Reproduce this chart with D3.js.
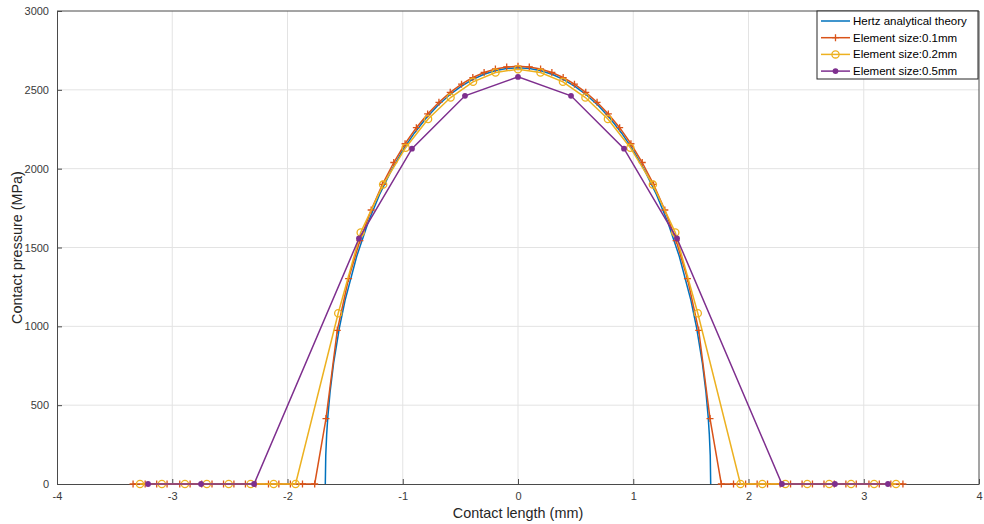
<!DOCTYPE html>
<html>
<head>
<meta charset="utf-8">
<script src="https://cdn.jsdelivr.net/npm/d3@7"></script>
<style>
  body { margin: 0; background: #fff; }
  svg { display: block; font-family: "Liberation Sans", Arial, sans-serif; }
  .tick text { fill: #3a3a3a; font-size: 11px; }
  .axisLabel { fill: #262626; font-size: 14.4px; }
  .legend text { fill: #000; font-size: 11.5px; }
</style>
</head>
<body>
<svg id="chart" width="984" height="524"></svg>
<script>
// data
var xTicks = [-4, -3, -2, -1, 0, 1, 2, 3, 4];
var yTicks = [0, 500, 1000, 1500, 2000, 2500, 3000];
var seriesNames = ['Hertz analytical theory', 'Element size:0.1mm', 'Element size:0.2mm', 'Element size:0.5mm'];

// Hertz analytical theory (right half, mirrored below)
var hertzX = [0, 0.1, 0.2, 0.3, 0.4, 0.5, 0.6, 0.7, 0.8, 0.9, 1.0, 1.1, 1.2, 1.3, 1.4, 1.5, 1.55, 1.6, 1.63, 1.65, 1.66, 1.668, 1.672];
var hertzP = [2640, 2635, 2621, 2597, 2563, 2519, 2464, 2398, 2318, 2225, 2116, 1988, 1838, 1660, 1443, 1166, 990, 766, 588, 427, 316, 183, 0];

// element size 0.1mm (right half)
var e01X = [0, 0.098, 0.196, 0.294, 0.392, 0.49, 0.588, 0.686, 0.784, 0.882, 0.98, 1.078, 1.176, 1.274, 1.372, 1.47, 1.568, 1.666,
  1.764, 1.87, 1.975, 2.075, 2.165, 2.275, 2.365, 2.465, 2.555, 2.655, 2.745, 2.845, 2.935, 3.045, 3.135, 3.235, 3.34];
var e01P = [2650, 2645, 2632, 2610, 2578, 2536, 2484, 2421, 2347, 2260, 2158, 2039, 1901, 1738, 1544, 1303, 975, 415,
  0, 0, 0, 0, 0, 0, 0, 0, 0, 0, 0, 0, 0, 0, 0, 0, 0];

// element size 0.2mm (right half)
var e02X = [0, 0.195, 0.39, 0.585, 0.78, 0.975, 1.17, 1.365, 1.56, 1.93, 2.12, 2.32, 2.51, 2.70, 2.89, 3.09, 3.28];
var e02P = [2631, 2610, 2551, 2451, 2315, 2133, 1899, 1595, 1083, 0, 0, 0, 0, 0, 0, 0, 0];

// element size 0.5mm (right half)
var e05X = [0, 0.46, 0.92, 1.38, 2.29, 2.75, 3.21];
var e05P = [2582, 2462, 2127, 1557, 0, 0, 0];

function mirror(xs, ps) {
  var pts = [];
  for (var i = xs.length - 1; i > 0; i--) pts.push({x: -xs[i], y: ps[i]});
  for (var j = 0; j < xs.length; j++) pts.push({x: xs[j], y: ps[j]});
  return pts;
}

var series = [
  {name: seriesNames[0], color: '#0072BD', marker: 'none', pts: mirror(hertzX, hertzP)},
  {name: seriesNames[1], color: '#D95319', marker: 'plus', pts: mirror(e01X, e01P)},
  {name: seriesNames[2], color: '#EDB120', marker: 'circle', pts: mirror(e02X, e02P)},
  {name: seriesNames[3], color: '#7E2F8E', marker: 'dot', pts: mirror(e05X, e05P)}
];

var MARGINS = {left: 57, right: 5, top: 11, bottom: 40},
    WIDTH = 984, HEIGHT = 524;

var svg = d3.select('#chart');
var x = d3.scaleLinear().domain([-4, 4]).range([MARGINS.left, WIDTH - MARGINS.right]);
var y = d3.scaleLinear().domain([0, 3000]).range([HEIGHT - MARGINS.bottom, MARGINS.top]);

// grid
svg.append('g').selectAll('line').data(xTicks.slice(1, -1)).enter().append('line')
  .attr('x1', function (d) { return x(d); }).attr('x2', function (d) { return x(d); })
  .attr('y1', y(0)).attr('y2', y(3000))
  .attr('stroke', '#e3e3e3').attr('stroke-width', 1);
svg.append('g').selectAll('line').data(yTicks.slice(1, -1)).enter().append('line')
  .attr('x1', x(-4)).attr('x2', x(4))
  .attr('y1', function (d) { return y(d); }).attr('y2', function (d) { return y(d); })
  .attr('stroke', '#e3e3e3').attr('stroke-width', 1);

// axes (plain hyphen minus, no thousands separator)
var plain = function (d) { return String(d); };
var xAxis = d3.axisBottom(x).tickValues(xTicks).tickFormat(plain).tickSizeInner(-5).tickSizeOuter(0).tickPadding(8);
var yAxis = d3.axisLeft(y).tickValues(yTicks).tickFormat(plain).tickSizeInner(-5).tickSizeOuter(0).tickPadding(8);

svg.append('g').attr('class', 'x axis')
  .attr('transform', 'translate(0,' + y(0) + ')')
  .call(xAxis);
svg.append('g').attr('class', 'y axis')
  .attr('transform', 'translate(' + x(-4) + ',0)')
  .call(yAxis);
svg.selectAll('.axis path, .axis line').attr('stroke', '#4a4a4a');

// box top / right
svg.append('line').attr('x1', x(-4)).attr('x2', x(4)).attr('y1', y(3000)).attr('y2', y(3000)).attr('stroke', '#4a4a4a');
svg.append('line').attr('x1', x(4)).attr('x2', x(4)).attr('y1', y(0)).attr('y2', y(3000)).attr('stroke', '#4a4a4a');

// lines
var line = d3.line().x(function (d) { return x(d.x); }).y(function (d) { return y(d.y); });

function drawMarker(g, type, color, cx, cy) {
  if (type === 'plus') {
    g.append('path').attr('d', 'M' + (cx - 3.5) + ',' + cy + 'H' + (cx + 3.5) + 'M' + cx + ',' + (cy - 3.5) + 'V' + (cy + 3.5))
      .attr('stroke', color).attr('stroke-width', 1.3).attr('fill', 'none');
  } else if (type === 'circle') {
    g.append('circle').attr('cx', cx).attr('cy', cy).attr('r', 3.6)
      .attr('stroke', color).attr('stroke-width', 1.3).attr('fill', 'none');
  } else if (type === 'dot') {
    g.append('circle').attr('cx', cx).attr('cy', cy).attr('r', 2.9).attr('fill', color);
  }
}

series.forEach(function (s) {
  var g = svg.append('g');
  g.append('path').datum(s.pts)
    .attr('d', line)
    .attr('fill', 'none')
    .attr('stroke', s.color)
    .attr('stroke-width', 1.5);
  s.pts.forEach(function (p) {
    drawMarker(g, s.marker, s.color, x(p.x), y(p.y));
  });
});

// axis labels
svg.append('text').attr('class', 'axisLabel')
  .attr('x', x(0)).attr('y', 518)
  .attr('text-anchor', 'middle')
  .text('Contact length (mm)');
svg.append('text').attr('class', 'axisLabel')
  .attr('transform', 'translate(22,' + ((y(0) + y(3000)) / 2) + ') rotate(-90)')
  .attr('text-anchor', 'middle')
  .text('Contact pressure (MPa)');

// legend
var legend = svg.append('g').attr('class', 'legend');
legend.append('rect')
  .attr('x', 817).attr('y', 11).attr('width', 161).attr('height', 68)
  .attr('fill', '#fff').attr('stroke', '#262626').attr('stroke-width', 1);
series.forEach(function (s, i) {
  var ly = 21 + i * 16.7;
  legend.append('line').attr('x1', 821).attr('x2', 850).attr('y1', ly).attr('y2', ly)
    .attr('stroke', s.color).attr('stroke-width', 1.5);
  drawMarker(legend, s.marker, s.color, 835.5, ly);
  legend.append('text').attr('x', 853).attr('y', ly + 4).text(s.name);
});
</script>
</body>
</html>
